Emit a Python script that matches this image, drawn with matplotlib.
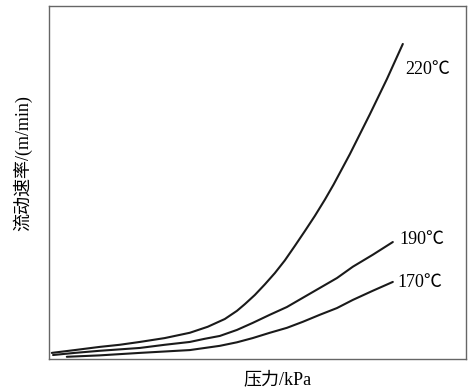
import matplotlib.pyplot as plt

# 压力 (相对刻度) 与流动速率 (相对刻度)
x_220 = [0.7, 6.2, 12.2, 17.0, 21.8, 27.8, 33.8, 38.1, 42.2, 45.1, 47.0, 49.4, 51.8,
         54.2, 56.6, 59.0, 61.4, 63.8, 66.2, 68.3, 72.2, 77.0, 81.1, 84.9]
y_220 = [1.7, 2.5, 3.4, 4.0, 4.8, 5.9, 7.4, 9.1, 11.3, 13.6, 15.5, 18.1, 21.1,
         24.3, 27.9, 32.0, 36.2, 40.5, 45.1, 49.4, 58.0, 69.3, 79.3, 89.2]

x_190 = [1.0, 6.2, 12.2, 17.0, 21.8, 27.8, 33.8, 37.4, 41.0, 45.1, 48.9, 53.0,
         57.1, 60.9, 65.0, 69.1, 72.9, 77.7, 82.5]
y_190 = [1.1, 1.7, 2.3, 2.7, 3.1, 4.0, 4.8, 5.7, 6.5, 8.2, 10.2, 12.5,
         14.7, 17.3, 20.1, 22.9, 26.1, 29.5, 33.1]

x_170 = [4.3, 12.2, 21.8, 27.8, 33.8, 37.4, 41.0, 45.1, 48.9, 53.0, 57.1,
         60.9, 65.0, 69.1, 72.9, 77.7, 82.5]
y_170 = [0.6, 1.0, 1.7, 2.1, 2.5, 3.1, 3.7, 4.7, 5.9, 7.4, 8.8,
         10.5, 12.5, 14.4, 16.7, 19.3, 21.8]

labels = ['220℃', '190℃', '170℃']

fig = plt.figure(figsize=(4.7, 3.88), dpi=100)
ax = fig.add_axes([0.104, 0.075, 0.887, 0.91])

for xs, ys in [(x_220, y_220), (x_190, y_190), (x_170, y_170)]:
    ax.plot(xs, ys, color='#1a1a1a', lw=1.5, solid_capstyle='round',
            solid_joinstyle='round')

lab_font = ['Liberation Serif', 'Noto Sans CJK SC']
ax.text(85.4, 81.9, labels[0], fontsize=13, family=lab_font, va='center', ha='left')
ax.text(84.2, 33.7, labels[1], fontsize=13, family=lab_font, va='center', ha='left')
ax.text(83.7, 21.5, labels[2], fontsize=13, family=lab_font, va='center', ha='left')

ax.set_xlim(0, 100)
ax.set_ylim(0, 100)
ax.set_xticks([])
ax.set_yticks([])
for s in ax.spines.values():
    s.set_color('#666666')
    s.set_linewidth(1.0)

fig.text(0.59, 0.022, '压力/kPa', fontsize=13, family=lab_font, ha='center', va='center')
fig.text(0.049, 0.58, '流动速率/(m/min)', fontsize=13, family=lab_font,
         rotation=90, ha='center', va='center')

fig.savefig('out.png', dpi=100)
